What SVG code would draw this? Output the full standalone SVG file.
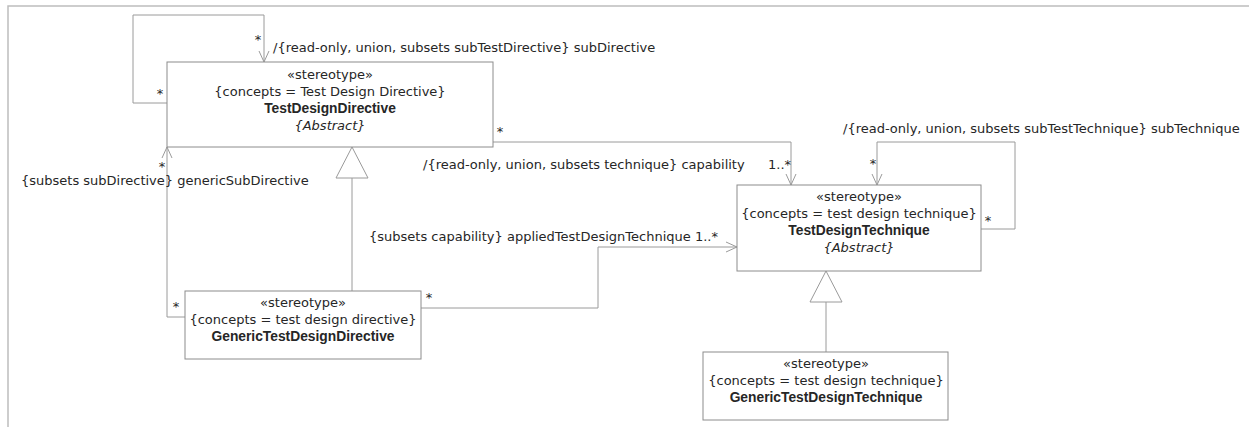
<svg xmlns="http://www.w3.org/2000/svg" width="1249" height="427" viewBox="0 0 1249 427">
<defs>
<style>
.frame{fill:none;stroke:#bdbdbd;stroke-width:1.5}
.box{fill:#fff;stroke:#8c8c8c;stroke-width:1}
.edge{fill:none;stroke:#9a9a9a;stroke-width:1}
.tri{fill:#fff;stroke:#9a9a9a;stroke-width:1}
text{font-family:"DejaVu Sans","Liberation Sans",sans-serif;font-size:13px;fill:#262626}
.c{text-anchor:middle}
.b{font-family:"Liberation Sans",Arial,sans-serif;font-weight:bold;font-size:13.8px}
.i{font-style:italic}
</style>
<marker id="open" viewBox="0 0 12 12" refX="11" refY="6" markerWidth="12" markerHeight="12" markerUnits="userSpaceOnUse" orient="auto">
<path d="M0,1 L11,6 L0,11" fill="none" stroke="#9a9a9a" stroke-width="1"/>
</marker>
</defs>
<path class="frame" d="M8,427 V6 H1249"/>
<g id="connectors">
<path class="edge" d="M167,103 H133 V15 H264 V62" marker-end="url(#open)"/>
<path class="edge" d="M493,142 H791 V185" marker-end="url(#open)"/>
<path class="edge" d="M981,229 H1015 V142 H877 V185" marker-end="url(#open)"/>
<path class="edge" d="M185,317 H167 V147" marker-end="url(#open)"/>
<path class="edge" d="M421,308 H598 V247 H737" marker-end="url(#open)"/>
<path class="edge" d="M352,291 V178"/>
<polygon class="tri" points="352,147 336,178 368,178"/>
<path class="edge" d="M826,352 V302"/>
<polygon class="tri" points="826,271 810,302 842,302"/>
<text x="258" y="44" class="c">*</text>
<text x="160" y="98" class="c">*</text>
<text x="273" y="52">/{read-only, union, subsets subTestDirective} subDirective</text>
<text x="500" y="136" class="c">*</text>
<text x="423" y="169">/{read-only, union, subsets technique} capability</text>
<text x="768" y="169">1..*</text>
<text x="873" y="168" class="c">*</text>
<text x="988" y="225" class="c">*</text>
<text x="843" y="133">/{read-only, union, subsets subTestTechnique} subTechnique</text>
<text x="21" y="185">{subsets subDirective} genericSubDirective</text>
<text x="162" y="171" class="c">*</text>
<text x="176" y="311" class="c">*</text>
<text x="429" y="302" class="c">*</text>
<text x="369" y="241">{subsets capability} appliedTestDesignTechnique 1..*</text>
</g>
<g id="TestDesignDirective">
<rect class="box" x="167" y="62" width="326" height="85"/>
<text x="330" y="79" class="c">«stereotype»</text>
<text x="330" y="96" class="c">{concepts = Test Design Directive}</text>
<text x="330" y="113" class="c b">TestDesignDirective</text>
<text x="330" y="130" class="c i">{Abstract}</text>
</g>
<g id="TestDesignTechnique">
<rect class="box" x="737" y="185" width="244" height="86"/>
<text x="859" y="201" class="c">«stereotype»</text>
<text x="859" y="218" class="c">{concepts = test design technique}</text>
<text x="859" y="235" class="c b">TestDesignTechnique</text>
<text x="859" y="252" class="c i">{Abstract}</text>
</g>
<g id="GenericTestDesignDirective">
<rect class="box" x="185" y="291" width="236" height="68"/>
<text x="303" y="307" class="c">«stereotype»</text>
<text x="303" y="324" class="c">{concepts = test design directive}</text>
<text x="303" y="341" class="c b">GenericTestDesignDirective</text>
</g>
<g id="GenericTestDesignTechnique">
<rect class="box" x="703" y="352" width="245" height="68"/>
<text x="826" y="368" class="c">«stereotype»</text>
<text x="826" y="385" class="c">{concepts = test design technique}</text>
<text x="826" y="402" class="c b">GenericTestDesignTechnique</text>
</g>
</svg>
